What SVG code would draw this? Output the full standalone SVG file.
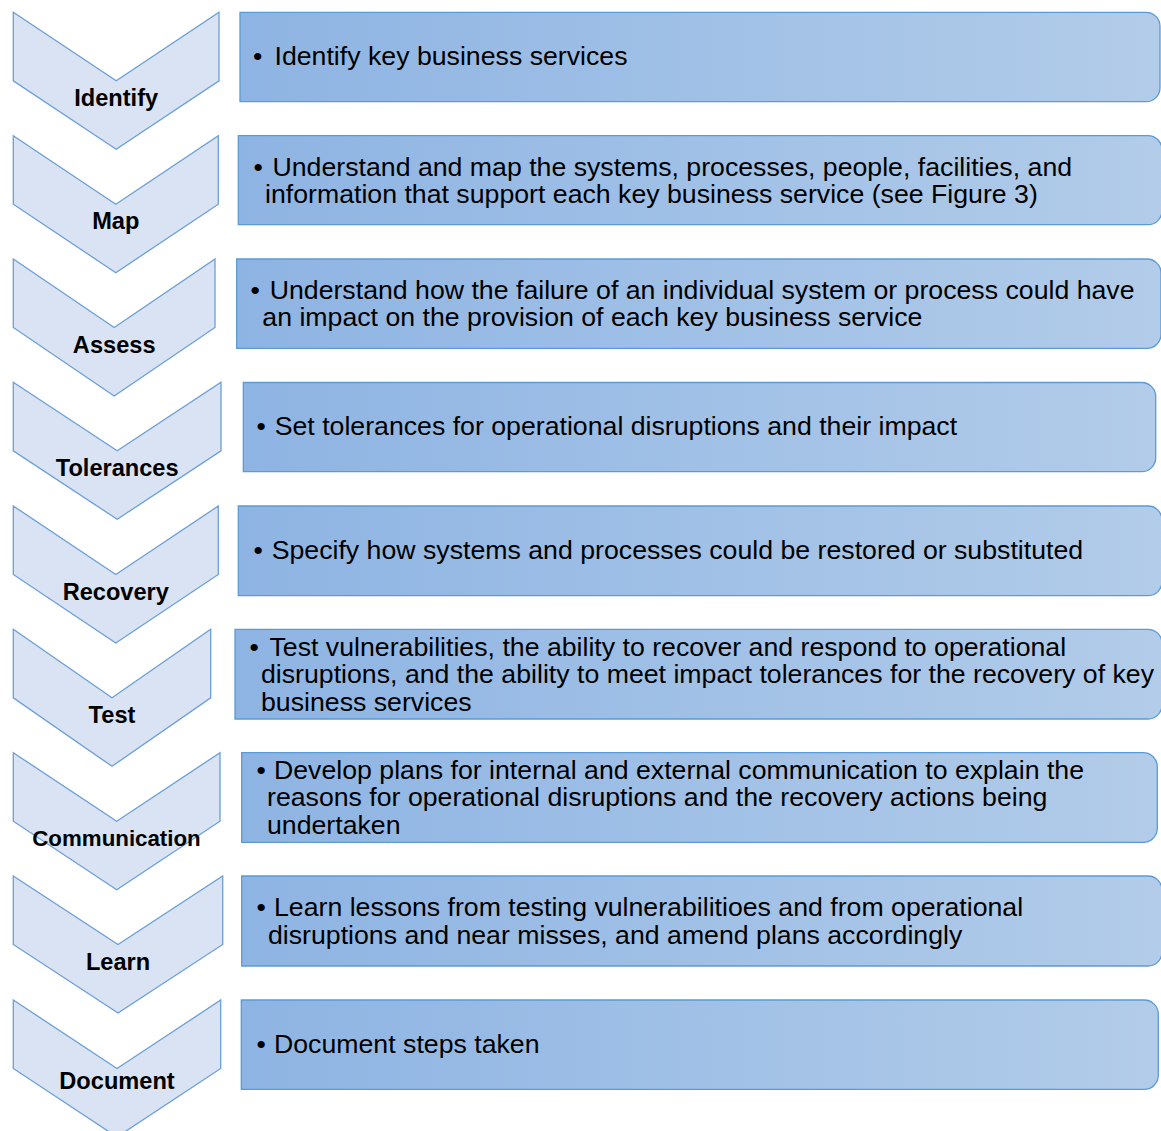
<svg xmlns="http://www.w3.org/2000/svg" width="1161" height="1131" viewBox="0 0 1161 1131">
  <defs>
    <linearGradient id="boxFill" x1="0" y1="0" x2="1" y2="0">
      <stop offset="0" stop-color="#8eb4e3"/>
      <stop offset="1" stop-color="#b2cce9"/>
    </linearGradient>
    <style>
      .chev { fill: #dae3f3; stroke: #6a9fd8; stroke-width: 1.3; stroke-linejoin: miter; }
      .box { fill: url(#boxFill); stroke: #5b9bd5; stroke-width: 1.3; }
      .label { font-family: "Liberation Sans", Arial, sans-serif; font-weight: bold; font-size: 23.6px; fill: #000; text-anchor: middle; }
      .body { font-family: "Liberation Sans", Arial, sans-serif; font-size: 26.7px; fill: #000; }
    </style>
  </defs>
  <rect width="1161" height="1131" fill="#ffffff"/>

  <!-- Step 1 -->
  <g id="step-identify">
    <polygon class="chev" points="13.3,12.3 116.2,80.8 219,12.3 219,80.8 116.2,149.3 13.3,80.8"/>
    <text class="label" x="116.2" y="105.8">Identify</text>
  </g>
  <g id="detail-identify">
    <path class="box" d="M240,12.3 H1146 A14,14 0 0 1 1160,26.3 V87.7 A14,14 0 0 1 1146,101.7 H240 Z"/>
    <text class="body" y="64.7"><tspan x="253">•</tspan><tspan x="274.5">Identify key business services</tspan></text>
  </g>

  <!-- Step 2 -->
  <g id="step-map">
    <polygon class="chev" points="13.3,135.7 115.8,204.2 218.3,135.7 218.3,204.2 115.8,272.7 13.3,204.2"/>
    <text class="label" x="115.8" y="229.2">Map</text>
  </g>
  <g id="detail-map">
    <path class="box" d="M238.3,135.7 H1148 A14,14 0 0 1 1162,149.7 V210.7 A14,14 0 0 1 1148,224.7 H238.3 Z"/>
    <text class="body"><tspan x="253.5" y="175.5">•</tspan><tspan x="272.5" y="175.5">Understand and map the systems, processes, people, facilities, and</tspan><tspan x="265" y="202.8">information that support each key business service (see Figure 3)</tspan></text>
  </g>

  <!-- Step 3 -->
  <g id="step-assess">
    <polygon class="chev" points="13.3,259 114.2,327.5 215,259 215,327.5 114.2,396 13.3,327.5"/>
    <text class="label" x="114.2" y="352.5">Assess</text>
  </g>
  <g id="detail-assess">
    <path class="box" d="M236.7,259 H1147 A14,14 0 0 1 1161,273 V334.3 A14,14 0 0 1 1147,348.3 H236.7 Z"/>
    <text class="body"><tspan x="250.5" y="298.5">•</tspan><tspan x="269.7" y="298.5">Understand how the failure of an individual system or process could have</tspan><tspan x="262.3" y="326.3">an impact on the provision of each key business service</tspan></text>
  </g>

  <!-- Step 4 -->
  <g id="step-tolerances">
    <polygon class="chev" points="13.3,382.3 117.2,450.8 221,382.3 221,450.8 117.2,519.3 13.3,450.8"/>
    <text class="label" x="117.2" y="475.8">Tolerances</text>
  </g>
  <g id="detail-tolerances">
    <path class="box" d="M243.3,382.5 H1141.7 A14,14 0 0 1 1155.7,396.5 V457.7 A14,14 0 0 1 1141.7,471.7 H243.3 Z"/>
    <text class="body" y="435"><tspan x="256.5">•</tspan><tspan x="274.7">Set tolerances for operational disruptions and their impact</tspan></text>
  </g>

  <!-- Step 5 -->
  <g id="step-recovery">
    <polygon class="chev" points="13.3,506 115.8,574.5 218.3,506 218.3,574.5 115.8,643 13.3,574.5"/>
    <text class="label" x="115.8" y="599.5">Recovery</text>
  </g>
  <g id="detail-recovery">
    <path class="box" d="M238.3,506 H1148 A14,14 0 0 1 1162,520 V581.7 A14,14 0 0 1 1148,595.7 H238.3 Z"/>
    <text class="body" y="559"><tspan x="253.5">•</tspan><tspan x="271.7">Specify how systems and processes could be restored or substituted</tspan></text>
  </g>

  <!-- Step 6 -->
  <g id="step-test">
    <polygon class="chev" points="13.3,629.3 112,697.8 210.7,629.3 210.7,697.8 112,766.3 13.3,697.8"/>
    <text class="label" x="112" y="722.8">Test</text>
  </g>
  <g id="detail-test">
    <path class="box" d="M235,629.3 H1148 A14,14 0 0 1 1162,643.3 V705 A14,14 0 0 1 1148,719 H235 Z"/>
    <text class="body"><tspan x="249.5" y="655.5">•</tspan><tspan x="269.5" y="655.5">Test vulnerabilities, the ability to recover and respond to operational</tspan><tspan x="261" y="683.2">disruptions, and the ability to meet impact tolerances for the recovery of key</tspan><tspan x="261" y="710.7">business services</tspan></text>
  </g>

  <!-- Step 7 -->
  <g id="step-communication">
    <polygon class="chev" points="13.3,752.7 116.7,821.2 220,752.7 220,821.2 116.7,889.7 13.3,821.2"/>
    <text class="label" x="116.5" y="846.2" style="font-size:22.3px">Communication</text>
  </g>
  <g id="detail-communication">
    <path class="box" d="M241.7,752.7 H1143.3 A14,14 0 0 1 1157.3,766.7 V828.3 A14,14 0 0 1 1143.3,842.3 H241.7 Z"/>
    <text class="body"><tspan x="256.5" y="778.7">•</tspan><tspan x="274" y="778.7">Develop plans for internal and external communication to explain the</tspan><tspan x="267" y="806.4">reasons for operational disruptions and the recovery actions being</tspan><tspan x="267" y="834">undertaken</tspan></text>
  </g>

  <!-- Step 8 -->
  <g id="step-learn">
    <polygon class="chev" points="13.3,876 118,944.5 222.7,876 222.7,944.5 118,1013 13.3,944.5"/>
    <text class="label" x="118" y="969.5">Learn</text>
  </g>
  <g id="detail-learn">
    <path class="box" d="M241.7,876 H1148 A14,14 0 0 1 1162,890 V952 A14,14 0 0 1 1148,966 H241.7 Z"/>
    <text class="body"><tspan x="256.5" y="916.3">•</tspan><tspan x="274" y="916.3">Learn lessons from testing vulnerabilitioes and from operational</tspan><tspan x="268" y="943.7">disruptions and near misses, and amend plans accordingly</tspan></text>
  </g>

  <!-- Step 9 -->
  <g id="step-document">
    <polygon class="chev" points="13.3,1000 117,1068.5 220.7,1000 220.7,1068.5 117,1137 13.3,1068.5"/>
    <text class="label" x="117" y="1089">Document</text>
  </g>
  <g id="detail-document">
    <path class="box" d="M241.3,1000 H1144.3 A14,14 0 0 1 1158.3,1014 V1075.3 A14,14 0 0 1 1144.3,1089.3 H241.3 Z"/>
    <text class="body" y="1053"><tspan x="256.5">•</tspan><tspan x="274">Document steps taken</tspan></text>
  </g>
</svg>
